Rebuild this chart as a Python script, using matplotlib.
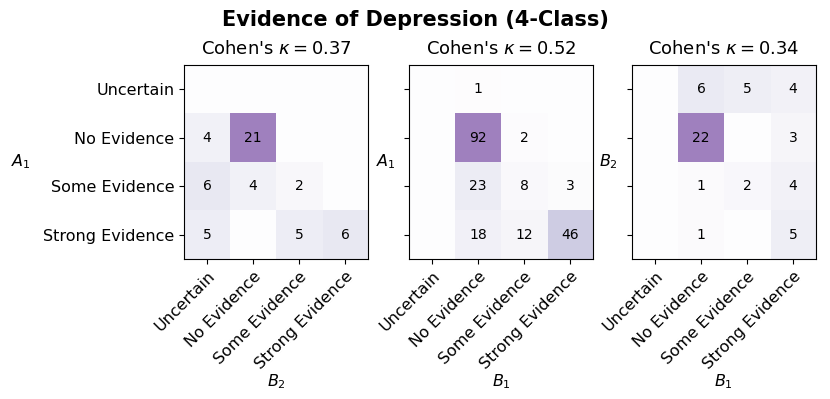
import numpy as np
import matplotlib
matplotlib.use('Agg')
import matplotlib.pyplot as plt

plt.rcParams.update({'font.size': 11.5})

# categorias das matrizes
classes = ['Uncertain', 'No Evidence', 'Some Evidence', 'Strong Evidence']

# contagens (linhas = eixo y, colunas = eixo x)
cm_a1_b2 = np.array([[0, 0, 0, 0],
                     [4, 21, 0, 0],
                     [6, 4, 2, 0],
                     [5, 0, 5, 6]])
cm_a1_b1 = np.array([[0, 1, 0, 0],
                     [0, 92, 2, 0],
                     [0, 23, 8, 3],
                     [0, 18, 12, 46]])
cm_b2_b1 = np.array([[0, 6, 5, 4],
                     [0, 22, 0, 3],
                     [0, 1, 2, 4],
                     [0, 1, 0, 5]])

kappas = [0.37, 0.52, 0.34]
ylabels = ['$A_1$', '$A_1$', '$B_2$']
xlabels = ['$B_2$', '$B_1$', '$B_1$']
matrizes = [cm_a1_b2, cm_a1_b1, cm_b2_b1]

fig = plt.figure(figsize=(8.3, 3.99), dpi=100)
lefts = [0.2217, 0.4928, 0.7614]
pads = [16, 10, 10]

for i, cm in enumerate(matrizes):
    ax = fig.add_axes([lefts[i], 0.351, 0.2217, 0.486])
    ax.imshow(cm, cmap='Purples', alpha=0.5, aspect='auto',
              vmin=0, vmax=cm.max())
    for r in range(cm.shape[0]):
        for c in range(cm.shape[1]):
            if cm[r, c] != 0:
                ax.text(c, r, str(cm[r, c]), ha='center', va='center',
                        fontsize=10, color='black')
    ax.set_xticks(range(len(classes)))
    ax.set_xticklabels(classes, rotation=45, ha='right',
                       rotation_mode='anchor')
    ax.set_yticks(range(len(classes)))
    if i == 0:
        ax.set_yticklabels(classes)
    else:
        ax.set_yticklabels([])
    ax.set_ylabel(ylabels[i], rotation=0, labelpad=pads[i], va='center')
    ax.set_xlabel(xlabels[i], labelpad=0)
    ax.set_title(r"Cohen's $\kappa = %.2f$" % kappas[i], fontsize=13, pad=8)

fig.suptitle('Evidence of Depression (4-Class)', fontsize=15,
             fontweight='bold', y=0.975)

plt.savefig('out.png', dpi=100)
